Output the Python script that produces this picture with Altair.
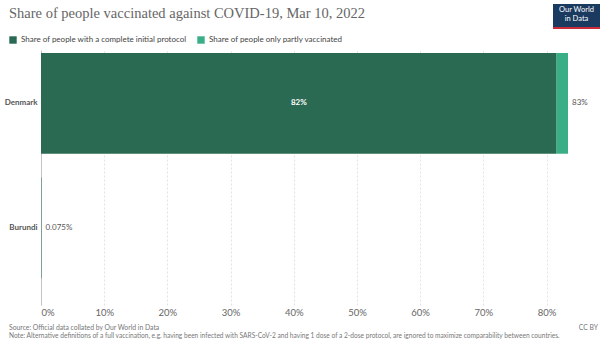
import altair as alt
import pandas as pd

# ---- data ----
countries = ["Denmark", "Burundi"]
complete_pct = [81.6, 0.06]
partly_pct = [1.8, 0.015]
total_labels = ["83%", "0.075%"]
inner_labels = ["82%", ""]
series_names = ["Share of people with a complete initial protocol",
                "Share of people only partly vaccinated"]
x_ticks = [0, 10, 20, 30, 40, 50, 60, 70, 80]

title_text = "Share of people vaccinated against COVID-19, Mar 10, 2022"
source_text = "Source: Official data collated by Our World in Data"
note_text = ("Note: Alternative definitions of a full vaccination, e.g. having been infected with "
             "SARS-CoV-2 and having 1 dose of a 2-dose protocol, are ignored to maximize "
             "comparability between countries.")

colors = ["#2b6a52", "#3aae86"]

# ---- tables ----
rows = []
for c, a, b in zip(countries, complete_pct, partly_pct):
    rows.append({"country": c, "series": series_names[0], "value": a, "order": 0})
    rows.append({"country": c, "series": series_names[1], "value": b, "order": 1})
long_df = pd.DataFrame(rows)

lab_df = pd.DataFrame({
    "country": countries,
    "complete": complete_pct,
    "total": [a + b for a, b in zip(complete_pct, partly_pct)],
    "total_label": total_labels,
    "inner_label": inner_labels,
})

W, H = 527, 255
FONT = "Lato"

x_scale = alt.Scale(domain=[0, 83.4], nice=False, zero=True)
y_scale = alt.Scale(domain=countries, paddingInner=0.19, paddingOuter=0.12, align=0.1)

y_enc = alt.Y("country:N", scale=y_scale, sort=countries,
              axis=alt.Axis(title=None, ticks=False, tickSize=0, labelFontWeight="bold",
                            labelFontSize=8, labelColor="#555", labelFont=FONT,
                            labelPadding=4, domain=True, domainColor="#c4c4c4",
                            domainWidth=1, grid=False))

bars = alt.Chart(long_df).mark_bar().encode(
    x=alt.X("value:Q", stack="zero", scale=x_scale,
            axis=alt.Axis(title=None, values=x_ticks, labelExpr="datum.value + '%'",
                          labelFontSize=9.5, labelColor="#666", labelFont=FONT,
                          labelPadding=2, ticks=False, tickSize=0, domain=False, grid=True,
                          gridDash=[2, 2], gridColor="#e2e2e2", gridWidth=1)),
    y=y_enc,
    color=alt.Color("series:N", scale=alt.Scale(domain=series_names, range=colors),
                    legend=alt.Legend(title=None, orient="none", legendX=-32, legendY=-14,
                                      direction="horizontal", symbolType="square",
                                      symbolSize=55, symbolStrokeWidth=0,
                                      labelFontSize=8, labelColor="#444", labelFont=FONT,
                                      labelLimit=400, columnPadding=10, symbolOffset=0,
                                      labelOffset=4)),
    order=alt.Order("order:Q"),
)

inner = alt.Chart(lab_df).transform_calculate(mid="datum.complete / 2").mark_text(
    color="white", fontWeight="bold", fontSize=8, font=FONT
).encode(x=alt.X("mid:Q", scale=x_scale), y=alt.Y("country:N", scale=y_scale, sort=countries),
         text="inner_label:N")

outer = alt.Chart(lab_df).mark_text(
    color="#555", fontSize=8, font=FONT, align="left", dx=4
).encode(x=alt.X("total:Q", scale=x_scale), y=alt.Y("country:N", scale=y_scale, sort=countries),
         text="total_label:N")

def txt(s, x, y, **kw):
    return alt.Chart(pd.DataFrame({"t": [s]})).mark_text(**kw).encode(
        text="t:N", x=alt.value(x), y=alt.value(y))

title = txt(title_text, -32, -36, font="Liberation Serif", fontSize=14.5, color="#666666",
            align="left", baseline="middle")
source = txt(source_text, -32, 278, font=FONT, fontSize=6.8, color="#777",
             align="left", baseline="middle")
note = txt(note_text, -32, 286, font=FONT, fontSize=6.6, color="#777",
           align="left", baseline="middle")
ccby = txt("CC BY", 557, 278, font=FONT, fontSize=6.8, color="#777",
           align="right", baseline="middle")

logo_bg = alt.Chart(pd.DataFrame({"a": [1]})).mark_rect(color="#1a3a5f").encode(
    x=alt.value(512), x2=alt.value(559), y=alt.value(-46), y2=alt.value(-23))
logo_red = alt.Chart(pd.DataFrame({"a": [1]})).mark_rect(color="#ce2b3a").encode(
    x=alt.value(512), x2=alt.value(559), y=alt.value(-23), y2=alt.value(-21))
logo1 = txt("Our World", 535.5, -40, font=FONT, fontSize=7.5, color="white",
            align="center", baseline="middle")
logo2 = txt("in Data", 535.5, -31, font=FONT, fontSize=7.5, color="white",
            align="center", baseline="middle")

chart = alt.layer(bars, inner, outer, title, source, note, ccby,
                  logo_bg, logo_red, logo1, logo2).properties(
    width=W, height=H,
    autosize=alt.AutoSizeParams(type="none"),
    padding={"left": 41, "top": 50, "right": 37, "bottom": 37},
    background="white",
).configure_view(stroke=None)

chart.save("out.html", embed_options={"renderer": "svg", "actions": False})
